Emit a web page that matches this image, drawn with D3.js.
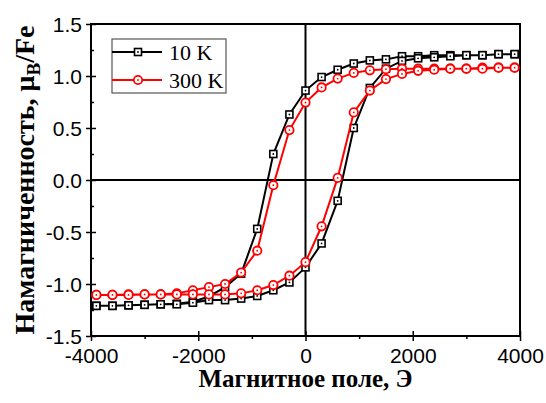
<!DOCTYPE html>
<html>
<head>
<meta charset="utf-8">
<title>hysteresis loops</title>
<script src="https://d3js.org/d3.v7.min.js"></script>
<style>
  body { margin: 0; background: #fff; }
</style>
</head>
<body>
<script>
// field values, Oe (descending branch; ascending branch is the reverse)
var fieldDesc = [3900, 3600, 3300, 3000, 2700, 2400, 2100, 1800, 1500, 1200, 900, 600, 300, 0,
                 -300, -600, -900, -1200, -1500, -1800, -2100, -2400, -2700, -3000, -3300, -3600, -3900];
var fieldAsc = fieldDesc.slice().reverse();

// 10 K, muB/Fe
var m10Desc = [1.21, 1.21, 1.20, 1.20, 1.20, 1.20, 1.19, 1.19, 1.16, 1.15, 1.12, 1.06, 0.99, 0.86,
               0.63, 0.25, -0.47, -0.90, -1.03, -1.12, -1.17, -1.19, -1.195, -1.20, -1.205, -1.21, -1.21];
var m10Asc = [-1.21, -1.21, -1.205, -1.20, -1.195, -1.195, -1.18, -1.155, -1.155, -1.14, -1.115, -1.06, -0.985, -0.84,
              -0.61, -0.20, 0.50, 0.885, 1.07, 1.145, 1.17, 1.18, 1.19, 1.20, 1.20, 1.21, 1.21];

// 300 K, muB/Fe
var m300Desc = [1.08, 1.08, 1.08, 1.07, 1.07, 1.07, 1.07, 1.07, 1.065, 1.055, 1.03, 0.975, 0.89, 0.745,
                0.48, -0.05, -0.68, -0.89, -1.00, -1.03, -1.06, -1.09, -1.10, -1.10, -1.10, -1.105, -1.105];
var m300Asc = [-1.105, -1.105, -1.105, -1.10, -1.10, -1.10, -1.10, -1.10, -1.10, -1.09, -1.06, -1.01, -0.92, -0.79,
               -0.445, 0.02, 0.65, 0.86, 0.97, 1.02, 1.05, 1.06, 1.07, 1.07, 1.07, 1.08, 1.08];

var xTicks = [-4000, -2000, 0, 2000, 4000];
var xMinor = [-3000, -1000, 1000, 3000];
var yTicks = [-1.5, -1.0, -0.5, 0.0, 0.5, 1.0, 1.5];
var yMinor = [-1.25, -0.75, -0.25, 0.25, 0.75, 1.25];

var seriesNames = ["10 K", "300 K"];

var W = 546, H = 403;
var margin = {top: 24, right: 26, bottom: 67, left: 91};
var width = W - margin.left - margin.right;
var height = H - margin.top - margin.bottom;

var svg = d3.select("body").append("svg")
    .attr("width", W)
    .attr("height", H);

var g = svg.append("g")
    .attr("transform", "translate(" + margin.left + "," + margin.top + ")");

var x = d3.scaleLinear().domain([-4000, 4000]).range([0, width]);
var y = d3.scaleLinear().domain([-1.5, 1.5]).range([height, 0]);

function pairs(fx, my) {
  return fx.map(function(f, i) { return [f, my[i]]; });
}
var loop10 = pairs(fieldDesc, m10Desc).concat(pairs(fieldAsc, m10Asc));
var loop300 = pairs(fieldDesc, m300Desc).concat(pairs(fieldAsc, m300Asc));

// plain hyphen for negatives, as in the original
function hyph(fmt) {
  var f = d3.format(fmt);
  return function(d) { return f(d).replace("\u2212", "-"); };
}

// zero lines
g.append("line").attr("x1", x(0)).attr("x2", x(0)).attr("y1", 0).attr("y2", height)
  .attr("stroke", "#000").attr("stroke-width", 2);
g.append("line").attr("x1", 0).attr("x2", width).attr("y1", y(0)).attr("y2", y(0))
  .attr("stroke", "#000").attr("stroke-width", 2);

// axes
var xAxis = g.append("g").attr("transform", "translate(0," + height + ")")
  .call(d3.axisBottom(x).tickValues(xTicks).tickSize(5).tickFormat(hyph("d")));
var xAxisMinor = g.append("g").attr("transform", "translate(0," + height + ")")
  .call(d3.axisBottom(x).tickValues(xMinor).tickSize(3).tickFormat(""));
var yAxis = g.append("g")
  .call(d3.axisLeft(y).tickValues(yTicks).tickSize(5).tickFormat(hyph(".1f")));
var yAxisMinor = g.append("g")
  .call(d3.axisLeft(y).tickValues(yMinor).tickSize(-3).tickFormat(""));

[xAxis, xAxisMinor, yAxis, yAxisMinor].forEach(function(a) {
  a.select(".domain").remove();
  a.selectAll(".tick line").attr("stroke", "#000").attr("stroke-width", 1.5);
  a.selectAll("text").attr("font-family", "Liberation Sans, Arial, sans-serif")
    .attr("font-size", 21).attr("fill", "#000");
});
// major ticks cross the axis line
xAxis.selectAll(".tick line").attr("y1", -5);
yAxis.selectAll(".tick line").attr("x1", 5);
xAxis.selectAll("text").attr("dy", "0.71em").attr("y", 12);
yAxis.selectAll("text").attr("x", -9).attr("dy", "0.35em");

// frame
g.append("rect").attr("width", width).attr("height", height)
  .attr("fill", "none").attr("stroke", "#000").attr("stroke-width", 2);

var line = d3.line().x(function(d) { return x(d[0]); }).y(function(d) { return y(d[1]); });

function drawSeries(data, color, shape) {
  var s = g.append("g");
  s.append("path").datum(data).attr("d", line)
    .attr("fill", "none").attr("stroke", color).attr("stroke-width", 2);
  var m = s.selectAll(".m").data(data).enter().append("g")
    .attr("transform", function(d) { return "translate(" + x(d[0]) + "," + y(d[1]) + ")"; });
  if (shape === "square") {
    m.append("rect").attr("x", -3.5).attr("y", -3.5).attr("width", 7).attr("height", 7)
      .attr("fill", "#fff").attr("stroke", color).attr("stroke-width", 1.6);
  } else {
    m.append("circle").attr("r", 4.2)
      .attr("fill", "#fff").attr("stroke", color).attr("stroke-width", 1.8);
  }
  m.append("circle").attr("r", 0.9).attr("fill", color);
}

drawSeries(loop10, "#000", "square");
drawSeries(loop300, "#ff0000", "circle");

// legend
var leg = g.append("g").attr("transform", "translate(" + (112 - margin.left) + "," + (39 - margin.top) + ")");
leg.append("rect").attr("width", 114).attr("height", 54)
  .attr("fill", "#fff").attr("stroke", "#555").attr("stroke-width", 1.2);
var legColors = ["#000", "#ff0000"];
seriesNames.forEach(function(name, i) {
  var ly = 13 + i * 28;
  leg.append("line").attr("x1", 0).attr("x2", 50).attr("y1", ly).attr("y2", ly)
    .attr("stroke", legColors[i]).attr("stroke-width", 2);
  if (i === 0) {
    leg.append("rect").attr("x", 26 - 3.5).attr("y", ly - 3.5).attr("width", 7).attr("height", 7)
      .attr("fill", "#fff").attr("stroke", legColors[i]).attr("stroke-width", 1.6);
  } else {
    leg.append("circle").attr("cx", 26).attr("cy", ly).attr("r", 4.2)
      .attr("fill", "#fff").attr("stroke", legColors[i]).attr("stroke-width", 1.8);
  }
  leg.append("circle").attr("cx", 26).attr("cy", ly).attr("r", 0.9).attr("fill", legColors[i]);
  leg.append("text").attr("x", 57).attr("y", ly).attr("dy", "0.35em")
    .attr("font-family", "Liberation Serif, Times New Roman, serif")
    .attr("font-size", 22).attr("fill", "#000").text(name);
});

// axis titles
svg.append("text")
  .attr("x", margin.left + width / 2).attr("y", 387)
  .attr("text-anchor", "middle")
  .attr("font-family", "Liberation Serif, Times New Roman, serif")
  .attr("font-weight", "bold").attr("font-size", 25).attr("fill", "#000")
  .text("Магнитное поле, Э");

var yl = svg.append("text")
  .attr("transform", "translate(34," + (margin.top + height / 2) + ") rotate(-90)")
  .attr("text-anchor", "middle")
  .attr("font-family", "Liberation Serif, Times New Roman, serif")
  .attr("font-weight", "bold").attr("font-size", 28).attr("fill", "#000");
yl.append("tspan").text("Намагниченность, μ");
yl.append("tspan").attr("font-size", 19).attr("dy", 6).text("B");
yl.append("tspan").attr("dy", -6).text("/Fe");
</script>
</body>
</html>
